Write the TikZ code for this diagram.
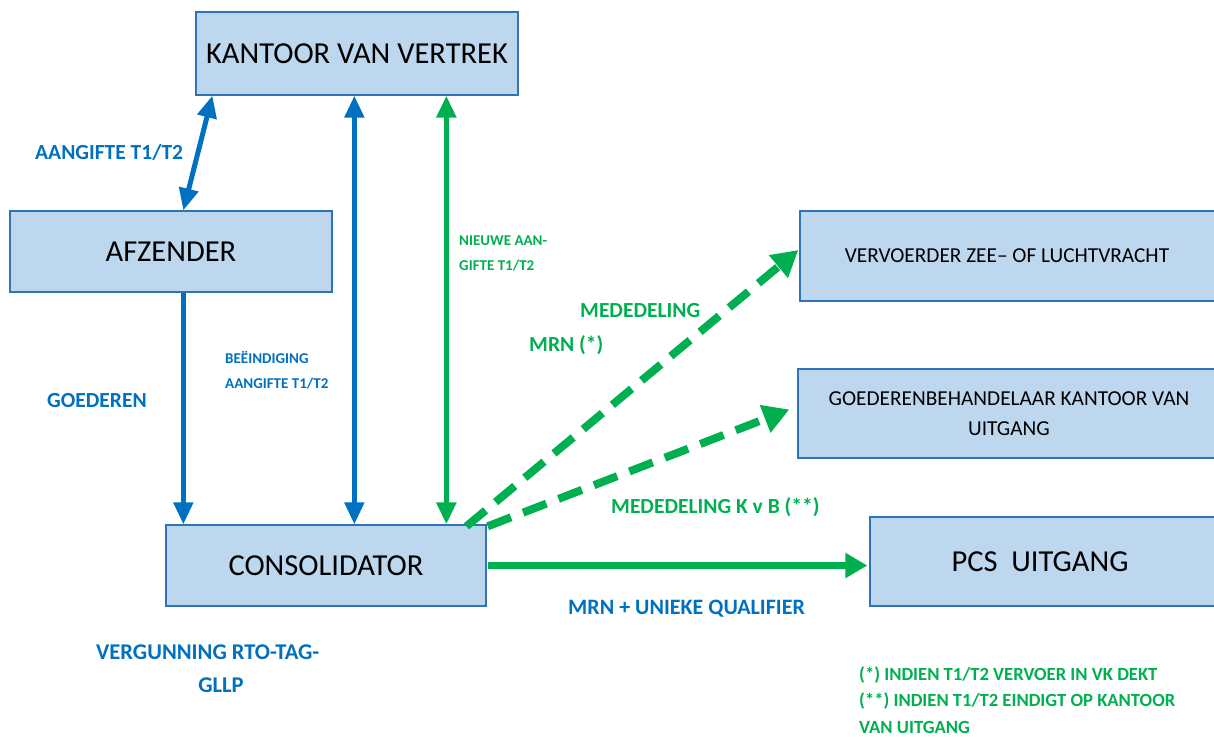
\documentclass[tikz,border=0pt]{standalone}
\usepackage{fontspec}
\setmainfont{Carlito}
\usetikzlibrary{arrows.meta,calc}
\definecolor{cblue}{HTML}{0070C0}
\definecolor{cgreen}{HTML}{00B050}
\definecolor{bfill}{HTML}{BDD7EE}
\definecolor{bdraw}{HTML}{2E75B6}
\tikzset{
  box/.style={draw=bdraw, fill=bfill, line width=1.3pt, inner sep=0pt, align=center, text=black},
  title/.style={font=\fontsize{30.5}{34}\selectfont},
  subtitle/.style={font=\fontsize{21.3}{30}\selectfont},
  bhead/.style={-{Triangle[length=22pt,width=19pt]}},
  bboth/.style={{Triangle[length=22pt,width=19pt]}-{Triangle[length=22pt,width=19pt]}},
  barrow/.style={draw=cblue, line width=5pt},
  garrow/.style={draw=cgreen, line width=5.5pt},
  gdash/.style={draw=cgreen, line width=8pt, dash pattern=on 25pt off 13pt, -{Triangle[length=26pt,width=28pt]}},
  blab/.style={text=cblue, font=\bfseries\fontsize{21.5}{26}\selectfont, inner sep=0pt, anchor=west},
  glab/.style={text=cgreen, font=\bfseries\fontsize{21.5}{26}\selectfont, inner sep=0pt, anchor=west},
  slab/.style={font=\bfseries\fontsize{15}{25}\selectfont, inner sep=0pt, anchor=west, align=left},
}
\begin{document}
\begin{tikzpicture}[x=1pt,y=-1pt]
\useasboundingbox (0,0) rectangle (1214,736);
\clip (0,0) rectangle (1214,736);
% boxes
\node[box, title, minimum width=322pt, minimum height=83pt] (kvv) at (357,53.5) {KANTOOR VAN VERTREK};
\node[box, title, minimum width=322pt, minimum height=81pt] (afz) at (171,251.5) {AFZENDER};
\node[box, title, minimum width=320pt, minimum height=81pt] (con) at (326,565.5) {CONSOLIDATOR};
\node[box, title, minimum width=350pt, minimum height=89pt] (pcs) at (1045,561.5) {PCS\ \ UITGANG\hspace*{10pt}};
\node[box, subtitle, minimum width=420pt, minimum height=90pt] (vvr) at (1010,256) {VERVOERDER ZEE– OF LUCHTVRACHT\hspace*{6pt}};
\node[box, subtitle, minimum width=422pt, minimum height=89pt] (goed) at (1009,413.5) {GOEDERENBEHANDELAAR KANTOOR VAN\\UITGANG};
% connectors
\draw[barrow, bboth] ([xshift=17pt]kvv.south west) -- ([xshift=174pt]afz.north west);
\draw[barrow, bhead] ([xshift=174pt]afz.south west) -- ([xshift=18pt]con.north west);
\draw[barrow, bboth] ([xshift=159pt]kvv.south west) -- ([xshift=189pt]con.north west);
\draw[garrow, bboth] ([xshift=251pt]kvv.south west) -- ([xshift=281pt]con.north west);
\draw[gdash] ([xshift=301pt,yshift=-2pt]con.north west) -- ([yshift=6pt,xshift=-1pt]vvr.west);
\draw[gdash] ([xshift=1pt,yshift=-2pt]con.north east) -- ([yshift=4pt,xshift=-8pt]goed.west);
\draw[garrow, line width=7pt, -{Triangle[length=22pt,width=24pt]}] ([xshift=1pt]con.east) -- ([xshift=-2pt]con.east -| pcs.west);
% labels
\node[blab] (l1) at (35,152) {AANGIFTE T1/T2};
\node[blab] (l2) at (47,401) {GOEDEREN};
\node[slab, text=cblue] (l3) at (225,370.5) {BEËINDIGING\\AANGIFTE T1/T2};
\node[slab, text=cgreen] (l4) at (459,253) {NIEUWE AAN-\\GIFTE T1/T2};
\node[glab] (l5) at (580,311) {MEDEDELING};
\node[glab] (l6) at (529,345) {MRN (*)};
\node[glab] (l7) at (611,507) {MEDEDELING K v B (**)};
\node[blab, font=\bfseries\fontsize{22}{26}\selectfont] (l8) at (568,609) {MRN + UNIEKE QUALIFIER};
\node[blab, font=\bfseries\fontsize{22.5}{26}\selectfont] (l9) at (96,652) {VERGUNNING RTO-TAG-};
\node[blab, anchor=center, font=\bfseries\fontsize{22.5}{26}\selectfont] (l10) at (221,685) {GLLP};
\node[glab, align=left, font=\bfseries\fontsize{18.6}{26.2}\selectfont] (l11) at (859,700) {(*) INDIEN T1/T2 VERVOER IN VK DEKT\\(**) INDIEN T1/T2 EINDIGT OP KANTOOR\\VAN UITGANG};
\end{tikzpicture}
\end{document}
